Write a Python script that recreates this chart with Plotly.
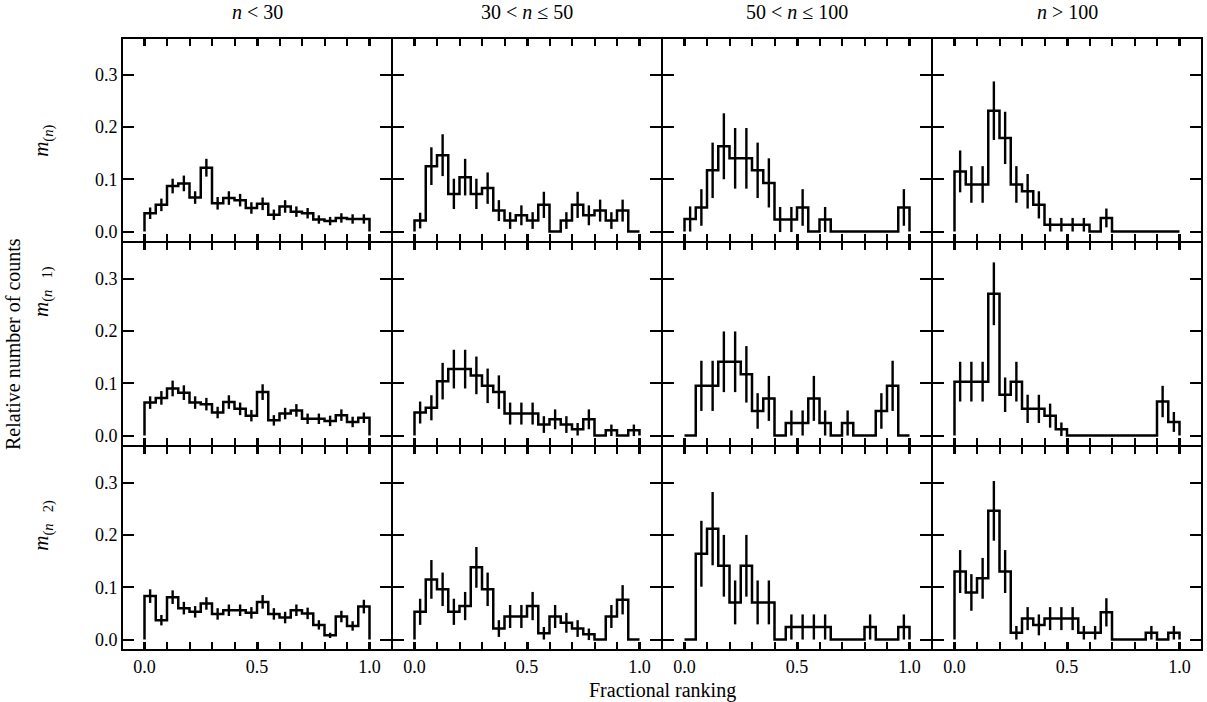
import plotly.graph_objects as go
from plotly.subplots import make_subplots

# Bin edges of the fractional-ranking histograms (20 bins of width 0.05)
BIN_EDGES = [0.00, 0.05, 0.10, 0.15, 0.20, 0.25, 0.30, 0.35, 0.40, 0.45, 0.50,
             0.55, 0.60, 0.65, 0.70, 0.75, 0.80, 0.85, 0.90, 0.95, 1.00]
BIN_CENTERS = [0.025, 0.075, 0.125, 0.175, 0.225, 0.275, 0.325, 0.375, 0.425, 0.475,
               0.525, 0.575, 0.625, 0.675, 0.725, 0.775, 0.825, 0.875, 0.925, 0.975]

COLUMN_TITLES = ["<i>n</i> < 30", "30 < <i>n</i> ≤ 50", "50 < <i>n</i> ≤ 100", "<i>n</i> > 100"]
ROW_LABELS = ["<i>m</i><sub>(<i>n</i>)</sub>",
              "<i>m</i><sub>(<i>n</i>   1)</sub>",
              "<i>m</i><sub>(<i>n</i>   2)</sub>"]
X_TICKS = [0.0, 0.5, 1.0]
X_TICK_TEXT = ["0.0", "0.5", "1.0"]
Y_TICKS = [0.0, 0.1, 0.2, 0.3]
Y_TICK_TEXT = ["0.0", "0.1", "0.2", "0.3"]

# Row 1: m(n)
M0_LT30 = [0.035, 0.051, 0.087, 0.092, 0.065, 0.122, 0.054, 0.064, 0.060, 0.045,
           0.053, 0.032, 0.048, 0.038, 0.035, 0.023, 0.020, 0.026, 0.024, 0.024]
M0_LT30_ERR = [0.011, 0.012, 0.014, 0.015, 0.012, 0.017, 0.012, 0.013, 0.012, 0.011,
               0.012, 0.010, 0.012, 0.010, 0.010, 0.008, 0.008, 0.009, 0.009, 0.009]
M0_30_50 = [0.021, 0.125, 0.146, 0.072, 0.104, 0.072, 0.083, 0.040, 0.021, 0.031,
            0.021, 0.051, 0.000, 0.021, 0.051, 0.031, 0.040, 0.021, 0.040, 0.000]
M0_30_50_ERR = [0.015, 0.036, 0.040, 0.029, 0.035, 0.029, 0.030, 0.020, 0.016, 0.019,
                0.016, 0.025, 0.000, 0.016, 0.025, 0.019, 0.021, 0.016, 0.021, 0.000]
M0_50_100 = [0.024, 0.046, 0.117, 0.163, 0.140, 0.140, 0.117, 0.093, 0.023, 0.023,
             0.046, 0.000, 0.023, 0.000, 0.000, 0.000, 0.000, 0.000, 0.000, 0.046]
M0_50_100_ERR = [0.024, 0.035, 0.053, 0.063, 0.058, 0.058, 0.053, 0.047, 0.024, 0.024,
                 0.035, 0.000, 0.024, 0.000, 0.000, 0.000, 0.000, 0.000, 0.000, 0.035]
M0_GT100 = [0.115, 0.090, 0.090, 0.231, 0.179, 0.090, 0.077, 0.051, 0.013, 0.013,
            0.013, 0.013, 0.000, 0.026, 0.000, 0.000, 0.000, 0.000, 0.000, 0.000]
M0_GT100_ERR = [0.040, 0.035, 0.035, 0.056, 0.050, 0.035, 0.033, 0.026, 0.013, 0.013,
                0.013, 0.013, 0.000, 0.018, 0.000, 0.000, 0.000, 0.000, 0.000, 0.000]

# Row 2: m(n-1)
M1_LT30 = [0.063, 0.072, 0.090, 0.082, 0.063, 0.060, 0.044, 0.064, 0.051, 0.038,
           0.083, 0.029, 0.042, 0.048, 0.032, 0.032, 0.028, 0.039, 0.026, 0.034]
M1_LT30_ERR = [0.012, 0.013, 0.015, 0.014, 0.012, 0.012, 0.011, 0.013, 0.012, 0.011,
               0.015, 0.010, 0.011, 0.012, 0.010, 0.010, 0.010, 0.011, 0.010, 0.010]
M1_30_50 = [0.044, 0.053, 0.104, 0.127, 0.127, 0.115, 0.095, 0.083, 0.042, 0.042,
            0.042, 0.021, 0.031, 0.021, 0.012, 0.031, 0.000, 0.010, 0.000, 0.010]
M1_30_50_ERR = [0.021, 0.024, 0.035, 0.037, 0.037, 0.036, 0.033, 0.032, 0.021, 0.021,
                0.021, 0.016, 0.019, 0.016, 0.012, 0.019, 0.000, 0.011, 0.000, 0.011]
M1_50_100 = [0.000, 0.095, 0.095, 0.141, 0.141, 0.117, 0.047, 0.071, 0.000, 0.024,
             0.024, 0.071, 0.024, 0.000, 0.024, 0.000, 0.000, 0.047, 0.095, 0.000]
M1_50_100_ERR = [0.000, 0.048, 0.048, 0.058, 0.058, 0.054, 0.034, 0.043, 0.000, 0.024,
                 0.024, 0.043, 0.024, 0.000, 0.024, 0.000, 0.000, 0.034, 0.048, 0.000]
M1_GT100 = [0.103, 0.103, 0.103, 0.271, 0.078, 0.103, 0.051, 0.051, 0.038, 0.012,
            0.000, 0.000, 0.000, 0.000, 0.000, 0.000, 0.000, 0.000, 0.065, 0.026]
M1_GT100_ERR = [0.038, 0.038, 0.038, 0.060, 0.033, 0.038, 0.027, 0.027, 0.023, 0.013,
                0.000, 0.000, 0.000, 0.000, 0.000, 0.000, 0.000, 0.000, 0.030, 0.019]

# Row 3: m(n-2)
M2_LT30 = [0.083, 0.037, 0.081, 0.060, 0.053, 0.069, 0.049, 0.056, 0.056, 0.051,
           0.072, 0.049, 0.042, 0.056, 0.050, 0.028, 0.008, 0.044, 0.026, 0.063]
M2_LT30_ERR = [0.013, 0.010, 0.013, 0.012, 0.011, 0.012, 0.011, 0.011, 0.011, 0.011,
               0.013, 0.011, 0.011, 0.011, 0.011, 0.009, 0.005, 0.011, 0.009, 0.013]
M2_30_50 = [0.053, 0.115, 0.096, 0.053, 0.064, 0.138, 0.096, 0.021, 0.044, 0.044,
            0.064, 0.012, 0.044, 0.032, 0.021, 0.010, 0.000, 0.044, 0.076, 0.000]
M2_30_50_ERR = [0.025, 0.037, 0.032, 0.025, 0.027, 0.039, 0.032, 0.016, 0.022, 0.022,
                0.027, 0.012, 0.022, 0.019, 0.016, 0.011, 0.000, 0.022, 0.028, 0.000]
M2_50_100 = [0.000, 0.164, 0.212, 0.141, 0.071, 0.141, 0.071, 0.071, 0.000, 0.024,
             0.024, 0.024, 0.024, 0.000, 0.000, 0.000, 0.024, 0.000, 0.000, 0.024]
M2_50_100_ERR = [0.000, 0.063, 0.070, 0.059, 0.042, 0.059, 0.042, 0.042, 0.000, 0.024,
                 0.024, 0.024, 0.024, 0.000, 0.000, 0.000, 0.024, 0.000, 0.000, 0.024]
M2_GT100 = [0.130, 0.090, 0.117, 0.246, 0.130, 0.013, 0.040, 0.028, 0.040, 0.040,
            0.040, 0.013, 0.013, 0.052, 0.000, 0.000, 0.000, 0.013, 0.000, 0.013]
M2_GT100_ERR = [0.041, 0.035, 0.039, 0.057, 0.041, 0.013, 0.022, 0.020, 0.022, 0.022,
                0.022, 0.013, 0.013, 0.027, 0.000, 0.000, 0.000, 0.013, 0.000, 0.013]

PANELS = [
    [(M0_LT30, M0_LT30_ERR), (M0_30_50, M0_30_50_ERR), (M0_50_100, M0_50_100_ERR), (M0_GT100, M0_GT100_ERR)],
    [(M1_LT30, M1_LT30_ERR), (M1_30_50, M1_30_50_ERR), (M1_50_100, M1_50_100_ERR), (M1_GT100, M1_GT100_ERR)],
    [(M2_LT30, M2_LT30_ERR), (M2_30_50, M2_30_50_ERR), (M2_50_100, M2_50_100_ERR), (M2_GT100, M2_GT100_ERR)],
]

FONT = "Liberation Serif, Times New Roman, DejaVu Serif, serif"
INK = "black"

fig = make_subplots(rows=3, cols=4, horizontal_spacing=0, vertical_spacing=0)

shapes = []
for r, row in enumerate(PANELS, start=1):
    for c, (vals, errs) in enumerate(row, start=1):
        # step outline: rises from zero at the left edge, falls back to zero at the right edge
        sx = [BIN_EDGES[0]] + BIN_EDGES[:-1] + [BIN_EDGES[-1]]
        sy = [0.0] + list(vals) + [0.0]
        fig.add_trace(go.Scatter(x=sx, y=sy, mode="lines", line_shape="hv",
                                 line=dict(color=INK, width=2.5),
                                 hoverinfo="skip", showlegend=False), row=r, col=c)
        ex = [xc for xc, v in zip(BIN_CENTERS, vals) if v > 0]
        ey = [v for v in vals if v > 0]
        ee = [e for v, e in zip(vals, errs) if v > 0]
        fig.add_trace(go.Scatter(x=ex, y=ey, mode="markers",
                                 marker=dict(size=0.1, color=INK, opacity=0),
                                 error_y=dict(type="data", array=ee, visible=True,
                                              color=INK, thickness=2.4, width=0),
                                 hoverinfo="skip", showlegend=False), row=r, col=c)

        fig.update_xaxes(range=[-0.1, 1.1], tickvals=X_TICKS, ticktext=X_TICK_TEXT,
                         ticks="inside", ticklen=8, tickwidth=2.8, tickcolor=INK,
                         minor=dict(dtick=0.1, tick0=0, ticks="inside", ticklen=8,
                                    tickwidth=1.8, tickcolor=INK),
                         showline=True, linewidth=1, linecolor=INK, mirror="allticks",
                         showgrid=False, zeroline=False,
                         showticklabels=(r == 3),
                         tickfont=dict(family=FONT, size=18, color=INK),
                         row=r, col=c)
        fig.update_yaxes(range=[-0.02, 0.37], tickvals=Y_TICKS, ticktext=Y_TICK_TEXT,
                         ticks="inside", ticklen=12, tickwidth=2.4, tickcolor=INK,
                         showline=True, linewidth=1, linecolor=INK, mirror="allticks",
                         showgrid=False, zeroline=False,
                         showticklabels=(c == 1),
                         tickfont=dict(family=FONT, size=18, color=INK),
                         row=r, col=c)

        # panel frame drawn on the exact domain edges so neighbouring panels share one line
        k = (r - 1) * 4 + c
        suffix = "" if k == 1 else str(k)
        shapes.append(dict(type="rect", xref=f"x{suffix} domain", yref=f"y{suffix} domain",
                           x0=0, x1=1, y0=0, y1=1, line=dict(color=INK, width=2),
                           fillcolor="rgba(0,0,0,0)", layer="above"))

annotations = []
for c, title in enumerate(COLUMN_TITLES):
    annotations.append(dict(text=title, xref="paper", yref="paper",
                            x=(c + 0.5) / 4, y=1, xanchor="center", yanchor="bottom",
                            yshift=13, showarrow=False,
                            font=dict(family=FONT, size=20, color=INK)))

row_label_y = [0.832, 0.585, 0.203]
for label, yy in zip(ROW_LABELS, row_label_y):
    annotations.append(dict(text=label, xref="paper", yref="paper",
                            x=0, y=yy, xanchor="center", yanchor="middle",
                            xshift=-79, textangle=-90, showarrow=False,
                            font=dict(family=FONT, size=21, color=INK)))

annotations.append(dict(text="Relative number of counts", xref="paper", yref="paper",
                        x=0, y=0.5, xanchor="center", yanchor="middle",
                        xshift=-109, textangle=-90, showarrow=False,
                        font=dict(family=FONT, size=20, color=INK)))
annotations.append(dict(text="Fractional ranking", xref="paper", yref="paper",
                        x=0.5, y=0, xanchor="center", yanchor="top",
                        yshift=-27, showarrow=False,
                        font=dict(family=FONT, size=20, color=INK)))

fig.update_layout(width=1207, height=702,
                  margin=dict(l=122, r=5, t=38, b=52),
                  paper_bgcolor="white", plot_bgcolor="white",
                  annotations=annotations, shapes=shapes)

fig.write_html("out.html")
